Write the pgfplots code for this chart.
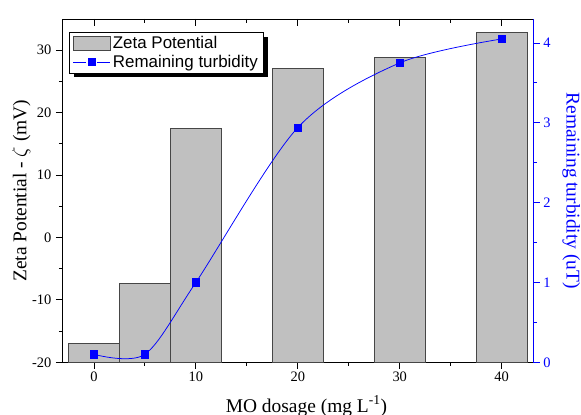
\documentclass[border=0pt]{standalone}
\usepackage{pgfplots}
\pgfplotsset{compat=1.18}
\usepackage{fontspec}
\setmainfont{Liberation Serif}
\newfontfamily\arial{Liberation Sans}
\usetikzlibrary{shadows}
\definecolor{barfill}{RGB}{192,192,192}
\definecolor{bardraw}{RGB}{70,70,70}
\newcommand\labfont{\fontsize{19.5}{23}\selectfont}
\pgfplotsset{
  base/.style={
    at={(0,0)}, anchor=south west,
    scale only axis, width=471bp, height=343.3bp,
    xmin=-3.1, xmax=43.1,
    /pgf/number format/assume math mode=true,
    ticklabel style={font=\fontsize{14.5}{17}\selectfont},
    major tick length=6.5bp, minor tick length=3.5bp,
    every tick/.style={line width=0.8bp},
  },
  zbar/.style={fill=barfill, draw=bardraw, line width=1bp, forget plot},
}
\begin{document}
\begin{tikzpicture}
\useasboundingbox (-62.3bp,-52.7bp) rectangle (518.7bp,362.3bp);
% left axis with bars
\begin{axis}[base,
  ymin=-20, ymax=35,
  axis x line*=bottom, axis y line*=left,
  axis line style={line width=0.9bp, black},
  tick align=outside,
  xtick={0,10,20,30,40}, minor xtick={5,15,25,35},
  ytick={-20,-10,0,10,20,30}, minor ytick={-15,-5,5,15,25},
  yticklabel style={xshift=-1bp},
  every axis y label/.style={at={(axis description cs:0,0.5)}, xshift=-41bp, rotate=90, anchor=center, font=\labfont},
  every axis x label/.style={at={(axis description cs:0.5,0)}, xshift=8.7bp, yshift=-50bp, anchor=base, font=\labfont},
  ylabel={Zeta Potential - $\zeta$ (mV)},
  xlabel={MO dosage (mg L\textsuperscript{-1})},
  legend style={at={(rel axis cs:0.0142,0.962)}, anchor=north west,
    draw=black, line width=0.8bp, fill=white,
    font=\arial\fontsize{17}{20}\selectfont,
    inner xsep=3.5bp, inner ysep=2bp, row sep=1bp,
    drop shadow={shadow xshift=4.5bp, shadow yshift=-4.5bp, fill=black, opacity=1}},
  legend cell align=left,
]
% bars (Zeta potential): 0 -> -17.0, 5 -> -7.4, 10 -> 17.5, 20 -> 27.0, 30 -> 28.9, 40 -> 32.8
\addplot[zbar] coordinates {(-2.5,-20) (-2.5,-17.0) (2.5,-17.0) (2.5,-20)} -- cycle;
\addplot[zbar] coordinates {(2.5,-20) (2.5,-7.4) (7.5,-7.4) (7.5,-20)} -- cycle;
\addplot[zbar] coordinates {(7.5,-20) (7.5,17.5) (12.5,17.5) (12.5,-20)} -- cycle;
\addplot[zbar] coordinates {(17.5,-20) (17.5,27.0) (22.5,27.0) (22.5,-20)} -- cycle;
\addplot[zbar] coordinates {(27.5,-20) (27.5,28.9) (32.5,28.9) (32.5,-20)} -- cycle;
\addplot[zbar] coordinates {(37.5,-20) (37.5,32.8) (42.5,32.8) (42.5,-20)} -- cycle;
\addlegendimage{legend image code/.code={
  \pgfpathrectangle{\pgfpoint{0bp}{-7bp}}{\pgfpoint{37bp}{14bp}}
  \pgfsetfillcolor{barfill}\pgfsetstrokecolor{bardraw}\pgfsetlinewidth{1bp}
  \pgfusepath{fill,stroke}}}
\addlegendentry{Zeta Potential}
\addlegendimage{legend image code/.code={
  \pgfsetstrokecolor{blue}\pgfsetfillcolor{blue}\pgfsetlinewidth{0.8bp}
  \pgfpathmoveto{\pgfpoint{0bp}{0bp}}\pgfpathlineto{\pgfpoint{13bp}{0bp}}
  \pgfpathmoveto{\pgfpoint{24bp}{0bp}}\pgfpathlineto{\pgfpoint{37bp}{0bp}}
  \pgfusepath{stroke}
  \pgfpathrectangle{\pgfpoint{14.8bp}{-3.7bp}}{\pgfpoint{7.4bp}{7.4bp}}
  \pgfusepath{fill}}}
\addlegendentry{Remaining turbidity}
\end{axis}
% top ticks
\begin{axis}[base,
  ymin=0, ymax=1,
  axis x line*=top, axis y line=none,
  axis line style={line width=0.9bp, black},
  tick align=inside,
  xtick={0,10,20,30,40}, minor xtick={5,15,25,35},
  xticklabels={},
  major tick length=7bp, minor tick length=4bp,
]
\end{axis}
% right axis with turbidity
\begin{axis}[base,
  ymin=0, ymax=4.3,
  axis x line=none, axis y line*=right,
  y axis line style={line width=0.9bp, blue},
  tick align=outside,
  ytick={0,1,2,3,4}, minor ytick={0.5,1.5,2.5,3.5},
  ytick style={blue, line width=0.8bp},
  yticklabel style={blue},
  every axis y label/.style={at={(axis description cs:1,0.5)}, xshift=38bp, rotate=-90, anchor=center, font=\labfont, blue},
  ylabel={Remaining turbidity (uT)},
]
\addplot[blue, line width=0.75bp, smooth, mark=square*, mark size=3.65bp,
  mark options={solid, fill=blue}]
  coordinates {(0,0.10) (5,0.10) (10,1.00) (20,2.94) (30,3.75) (40,4.05)};
\end{axis}
\end{tikzpicture}
\end{document}
